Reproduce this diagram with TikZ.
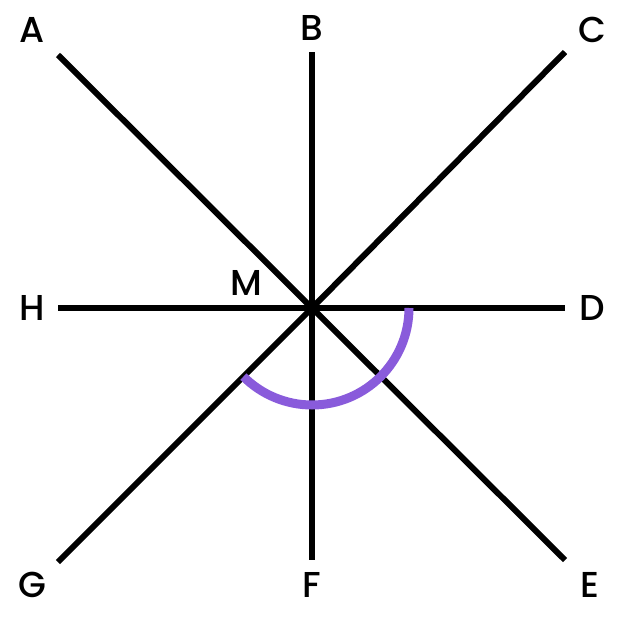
\documentclass[tikz,border=0pt]{standalone}
\usepackage{fontspec}
\setmainfont{Poppins}[UprightFont=* Medium]
\begin{document}
\begin{tikzpicture}[x=1pt,y=-1pt,
  ray/.style={line width=6pt,black},
  lab/.style={font=\fontsize{36}{36}\selectfont, inner sep=0pt}]
\useasboundingbox (0,0) rectangle (640,620);
\coordinate (M) at (312,308);
\coordinate (a) at (58,55);
\coordinate (b) at (312,52);
\coordinate (c) at (565,52);
\coordinate (d) at (565,308);
\coordinate (e) at (565,560);
\coordinate (f) at (312,560);
\coordinate (g) at (58,562);
\coordinate (h) at (58,308);
\foreach \p in {a,b,c,d,e,f,g,h} \draw[ray] (M) -- (\p);
\draw[line width=9pt,color={rgb,255:red,137;green,91;blue,219}] ([xshift=97pt]M) arc[start angle=0,end angle=-135,radius=97pt];
\node[lab] (A) at (32,30) {A};
\node[lab] (B) at (312,28) {B};
\node[lab] (C) at (592,30) {C};
\node[lab] (D) at (592,308) {D};
\node[lab] (E) at (590,585) {E};
\node[lab] (F) at (312,585) {F};
\node[lab] (G) at (32,585) {G};
\node[lab] (H) at (32,308) {H};
\node[lab] (Mlab) at (246,283) {M};
\end{tikzpicture}
\end{document}
